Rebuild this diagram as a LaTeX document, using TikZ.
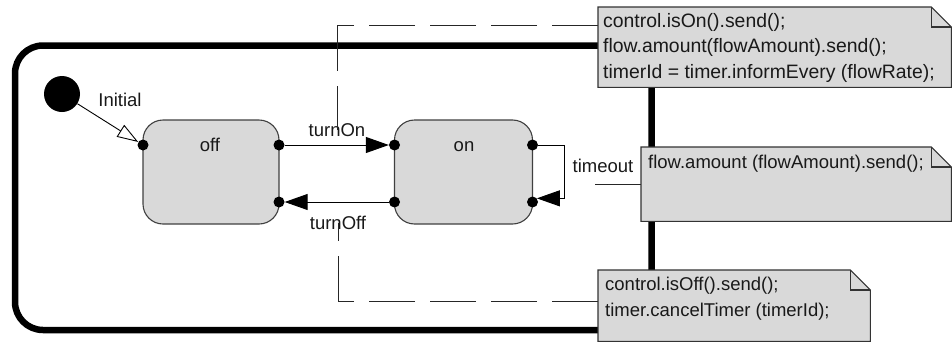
\documentclass[tikz,border=0pt]{standalone}
\usepackage{fontspec}
\setmainfont{Liberation Sans}
\usetikzlibrary{arrows.meta,calc}

% note with a folded top-right corner, drawn over a named rectangle node
\newcommand{\drawnote}[1]{%
  \filldraw[noteline] (#1.north west) -- ($(#1.north east)+(-20,0)$)
     -- ($(#1.north east)+(0,20)$) -- (#1.south east) -- (#1.south west) -- cycle;
  \draw[noteline, fill=none] ($(#1.north east)+(-20,0)$) -- ($(#1.north east)+(-20,20)$)
     -- ($(#1.north east)+(0,20)$);}

\begin{document}
\begin{tikzpicture}[x=1pt,y=-1pt,
  txt/.style={font=\fontsize{18.5}{22}\selectfont, inner sep=0pt, text=black!90},
  lbl/.style={txt, anchor=base},
  ntext/.style={txt, anchor=base west},
  widetext/.style={ntext, font=\fontsize{19.4}{22}\selectfont},
  statebox/.style={draw=black!75, fill=gray!30, rounded corners=20pt,
    line width=1.1pt, inner sep=0pt},
  dot/.style={circle, fill=black, inner sep=0pt, minimum size=11pt},
  notebox/.style={draw=none, inner sep=0pt, anchor=north west},
  noteline/.style={draw=black!80, fill=gray!30, line width=1.1pt, line join=miter},
  trans/.style={line width=1pt, -{Triangle[length=23pt,width=16pt]}},
  link/.style={draw=black!85, line width=0.9pt, dash pattern=on 46pt off 15pt},
  framebox/.style={draw=black, line width=6.5pt, rounded corners=28pt,
    inner sep=0pt, minimum width=636.5pt, minimum height=284.5pt}]

\useasboundingbox (0,0) rectangle (952,343);

% enclosing superstate
\node[framebox] (frame) at (333.25,187.75) {};

% initial pseudostate
\node[circle, fill=black, inner sep=0pt, minimum size=36pt] (init) at (62,94) {};
\node[lbl] (initlbl) at (120,106.5) {Initial};

% states
\node[statebox, minimum width=136pt, minimum height=104pt] (off) at (211,172) {};
\node[statebox, minimum width=138pt, minimum height=104pt] (on) at (463.5,172) {};
\node[lbl] (offlbl) at (210,151.5) {off};
\node[lbl] (onlbl) at (464,151.5) {on};

% ports
\node[dot] (offL)  at (143,145) {};
\node[dot] (offR)  at (279,145) {};
\node[dot] (offRb) at (279,202) {};
\node[dot] (onL)   at (394.5,145) {};
\node[dot] (onLb)  at (394.5,202) {};
\node[dot] (onR)   at (532.5,145) {};
\node[dot] (onRb)  at (532.5,202) {};

% transitions
\draw[line width=0.9pt, -{Triangle[open,length=21pt,width=14pt]}] (init) -- (offL);
\draw[trans] (offR) -- (onL);
\draw[trans] (onLb) -- (offRb);
\draw[trans] (onR.east) -- ++(26,0) |- (onRb.40);

\node[lbl] (onTr)  at (337,136) {turnOn};
\node[lbl] (offTr) at (338,229.3) {turnOff};
\node[lbl] (toTr)  at (603,172.7) {timeout};

% notes
\node[notebox, minimum width=353pt, minimum height=80pt] (n1) at (598,7) {};
\node[notebox, minimum width=310pt, minimum height=74pt] (n2) at (641,147) {};
\node[notebox, minimum width=272pt, minimum height=71pt] (n3) at (598,270) {};

% note attachments
\coordinate (cOn)  at (337,25);
\coordinate (cOff) at (338,301.5);
\coordinate (cTo)  at (595,184);
\draw[link] (cOn -| n1.west) -- (cOn);
\draw[link] (cOn) -- (onTr.center);
\draw[link] (cOff -| n3.west) -- (cOff);
\draw[link] (cOff) -- (offTr.center);
\draw[line width=0.9pt, black!85] (cTo) -- (cTo -| n2.west);

\drawnote{n1}
\drawnote{n2}
\drawnote{n3}

\node[widetext] (n1a) at (603,27.5) {control.isOn().send();};
\node[widetext] (n1b) at (603,52.8) {flow.amount(flowAmount).send();};
\node[widetext] (n1c) at (603,78) {timerId = timer.informEvery (flowRate);};
\node[ntext] (n2a) at (648,168) {flow.amount (flowAmount).send();};
\node[ntext] (n3a) at (605,290.5) {control.isOff().send();};
\node[ntext] (n3b) at (605,316) {timer.cancelTimer (timerId);};
\end{tikzpicture}
\end{document}
